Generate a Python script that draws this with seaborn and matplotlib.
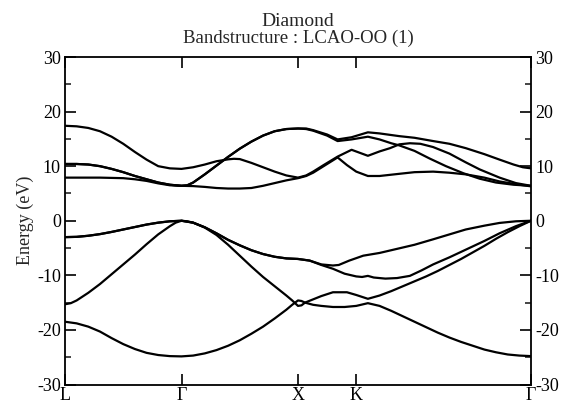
import numpy as np
import pandas as pd
import matplotlib
matplotlib.use("Agg")
import matplotlib.pyplot as plt
import seaborn as sns
from matplotlib.ticker import MultipleLocator

# ---- high-symmetry path (k in path units) ----
tick_pos = [0.0, 1.0, 2.0, 2.5, 4.0]
tick_labels = ["L", "Γ", "X", "K", "Γ"]

# ---- valence bands ----
k_v1 = [0, 0.1, 0.2, 0.3, 0.4, 0.5, 0.6, 0.7, 0.8, 0.9, 1.0,
        1.1, 1.2, 1.3, 1.4, 1.5, 1.6, 1.7, 1.8, 1.9, 1.95, 2.0, 2.03, 2.06,
        2.13, 2.2, 2.3, 2.4, 2.5, 2.6, 2.7, 2.8, 2.9, 3.0, 3.1, 3.2, 3.3, 3.4,
        3.5, 3.6, 3.7, 3.8, 3.9, 4.0]
e_v1 = [-18.5, -18.8, -19.4, -20.3, -21.5, -22.6, -23.5, -24.2, -24.6, -24.8, -24.85,
        -24.7, -24.3, -23.7, -22.9, -21.9, -20.7, -19.4, -17.9, -16.3, -15.4, -14.6, -14.7, -15.0,
        -15.4, -15.6, -15.8, -15.8, -15.6, -15.1, -15.6, -16.5, -17.5, -18.5, -19.5, -20.5, -21.4, -22.2,
        -22.9, -23.6, -24.1, -24.5, -24.7, -24.8]

k_v2 = [0, 0.05, 0.1, 0.2, 0.3, 0.4, 0.5, 0.6, 0.7, 0.8, 0.9, 0.95, 1.0,
        1.05, 1.1, 1.2, 1.3, 1.4, 1.5, 1.6, 1.7, 1.8, 1.9, 1.95, 2.0, 2.03, 2.06,
        2.13, 2.2, 2.3, 2.42, 2.5, 2.6, 2.7, 2.8, 2.9, 3.0, 3.1, 3.2, 3.3, 3.4,
        3.5, 3.6, 3.7, 3.8, 3.9, 4.0]
e_v2 = [-15.3, -15.1, -14.6, -13.2, -11.6, -9.8, -8.0, -6.2, -4.3, -2.5, -1.0, -0.35, 0.0,
        -0.1, -0.35, -1.25, -2.6, -4.4, -6.4, -8.4, -10.3, -12.0, -13.7, -14.6, -15.6, -15.5, -15.0,
        -14.4, -13.8, -13.1, -13.1, -13.6, -14.3, -13.7, -12.9, -12.0, -11.1, -10.2, -9.2, -8.1, -7.0,
        -5.8, -4.6, -3.3, -2.1, -1.0, 0.0]

k_v3 = [0, 0.1, 0.2, 0.3, 0.4, 0.5, 0.6, 0.7, 0.8, 0.9, 1.0,
        1.1, 1.2, 1.3, 1.4, 1.5, 1.6, 1.7, 1.8, 1.9, 2.0,
        2.1, 2.2, 2.3, 2.35, 2.44, 2.56, 2.7, 2.8, 2.9, 3.0, 3.16, 3.3, 3.44,
        3.6, 3.73, 3.87, 4.0]
e_v3 = [-3.0, -2.95, -2.75, -2.45, -2.05, -1.6, -1.15, -0.7, -0.35, -0.1, 0.0,
        -0.35, -1.2, -2.3, -3.5, -4.5, -5.4, -6.1, -6.6, -6.9, -7.0,
        -7.3, -8.0, -8.2, -8.1, -7.3, -6.4, -5.9, -5.4, -4.9, -4.4, -3.4, -2.5, -1.6,
        -0.9, -0.4, -0.1, 0.0]

k_v4 = [0, 0.1, 0.2, 0.3, 0.4, 0.5, 0.6, 0.7, 0.8, 0.9, 1.0,
        1.1, 1.2, 1.3, 1.4, 1.5, 1.6, 1.7, 1.8, 1.9, 2.0,
        2.1, 2.2, 2.3, 2.4, 2.5, 2.55, 2.6, 2.65, 2.75, 2.85, 2.96, 3.06, 3.16, 3.3,
        3.44, 3.6, 3.73, 3.87, 4.0]
e_v4 = [-3.0, -2.95, -2.75, -2.45, -2.05, -1.6, -1.15, -0.7, -0.35, -0.1, 0.0,
        -0.35, -1.2, -2.3, -3.5, -4.5, -5.4, -6.1, -6.6, -6.9, -7.0,
        -7.3, -8.1, -8.8, -9.7, -10.2, -10.3, -10.1, -10.4, -10.6, -10.5, -10.1, -9.1, -8.0, -6.7,
        -5.3, -3.7, -2.3, -1.0, 0.0]

# ---- conduction bands ----
k_c1 = [0, 0.1, 0.2, 0.3, 0.4, 0.5, 0.6, 0.7, 0.8, 0.9, 1.0,
        1.1, 1.2, 1.3, 1.4, 1.5, 1.6, 1.7, 1.8, 1.9, 2.0,
        2.07, 2.13, 2.22, 2.34, 2.42, 2.5, 2.6, 2.7, 2.87, 3.0, 3.16, 3.3, 3.44,
        3.6, 3.73, 3.87, 4.0]
e_c1 = [7.9, 7.9, 7.9, 7.9, 7.85, 7.8, 7.6, 7.3, 6.85, 6.5, 6.4,
        6.35, 6.2, 6.0, 5.9, 5.9, 6.0, 6.4, 6.9, 7.4, 7.8,
        8.2, 8.8, 10.0, 11.6, 10.2, 9.0, 8.2, 8.2, 8.6, 8.9, 9.0, 8.8, 8.5,
        7.9, 7.2, 6.7, 6.3]

k_c2 = [0, 0.1, 0.2, 0.3, 0.4, 0.5, 0.6, 0.7, 0.8, 0.9, 1.0,
        1.05, 1.1, 1.2, 1.3, 1.4, 1.5, 1.6, 1.7, 1.8, 1.9, 2.0,
        2.07, 2.13, 2.25, 2.34, 2.46, 2.6, 2.7, 2.87, 3.0, 3.16, 3.3, 3.44,
        3.6, 3.73, 3.85, 3.93, 4.0]
e_c2 = [10.4, 10.4, 10.3, 10.0, 9.5, 8.9, 8.2, 7.6, 7.0, 6.6, 6.4,
        6.5, 7.0, 8.5, 10.1, 11.7, 13.2, 14.5, 15.6, 16.4, 16.8, 16.9,
        16.9, 16.6, 15.8, 14.9, 15.3, 16.2, 16.0, 15.5, 15.2, 14.6, 14.1, 13.3,
        12.2, 11.2, 10.3, 9.8, 9.6]

k_c3 = [0, 0.1, 0.2, 0.3, 0.4, 0.5, 0.6, 0.7, 0.8, 0.9, 1.0,
        1.05, 1.1, 1.2, 1.3, 1.4, 1.5, 1.6, 1.7, 1.8, 1.9, 2.0,
        2.07, 2.13, 2.25, 2.34, 2.46, 2.6, 2.7, 2.8, 2.87, 3.0, 3.13, 3.27, 3.42,
        3.56, 3.7, 3.85, 4.0]
e_c3 = [10.4, 10.4, 10.3, 10.0, 9.5, 8.9, 8.2, 7.6, 7.0, 6.6, 6.4,
        6.5, 7.0, 8.5, 10.1, 11.7, 13.2, 14.5, 15.6, 16.4, 16.8, 16.9,
        16.8, 16.5, 15.6, 14.6, 14.9, 15.4, 14.9, 14.2, 13.8, 12.8, 11.4, 10.0, 8.7,
        7.7, 7.0, 6.6, 6.4]

k_c4 = [0, 0.1, 0.2, 0.3, 0.4, 0.5, 0.6, 0.7, 0.8, 0.9, 1.0,
        1.1, 1.2, 1.3, 1.4, 1.45, 1.5, 1.6, 1.7, 1.8, 1.9, 2.0,
        2.07, 2.13, 2.22, 2.34, 2.46, 2.6, 2.7, 2.79, 2.87, 2.96, 3.05, 3.16, 3.3,
        3.44, 3.56, 3.73, 3.87, 4.0]
e_c4 = [17.4, 17.3, 17.0, 16.4, 15.4, 14.1, 12.6, 11.2, 10.0, 9.6, 9.5,
        9.8, 10.3, 10.9, 11.25, 11.35, 11.3, 10.6, 9.8, 9.0, 8.3, 7.9,
        8.3, 9.0, 10.2, 11.75, 13.0, 11.9, 12.7, 13.3, 14.0, 14.2, 14.1, 13.5, 12.3,
        10.7, 9.4, 7.9, 6.9, 6.4]

bands = {
    "v1": (k_v1, e_v1), "v2": (k_v2, e_v2), "v3": (k_v3, e_v3), "v4": (k_v4, e_v4),
    "c1": (k_c1, e_c1), "c2": (k_c2, e_c2), "c3": (k_c3, e_c3), "c4": (k_c4, e_c4),
}

rows = []
for name, (ks, es) in bands.items():
    for i, (kk, ee) in enumerate(zip(ks, es)):
        rows.append((name, i, kk, ee))
df = pd.DataFrame(rows, columns=["band", "idx", "k", "E"])

sns.set_style("ticks")
plt.rcParams["font.family"] = ["Liberation Serif", "DejaVu Serif"]
plt.rcParams["axes.unicode_minus"] = False

W, H = 564, 405
fig = plt.figure(figsize=(W / 100, H / 100), dpi=100)
x0, x1, ytop, ybot = 65, 531, 57, 384.5
ax = fig.add_axes([x0 / W, 1 - ybot / H, (x1 - x0) / W, (ybot - ytop) / H])

sns.lineplot(data=df, x="k", y="E", units="band", estimator=None, sort=False,
             color="black", linewidth=1.6, ax=ax, legend=False)

ax.set_xlim(0, 4)
ax.set_ylim(-30, 30)
ax.set_xticks(tick_pos)
ax.set_xticklabels(tick_labels)
ax.yaxis.set_major_locator(MultipleLocator(10))
ax.yaxis.set_minor_locator(MultipleLocator(5))
ax.tick_params(axis="both", which="major", direction="in", length=8, width=1.2,
               labelsize=13, colors="black", top=True, right=True, labelright=True)
ax.tick_params(axis="y", which="minor", direction="in", length=4.5, width=1.2,
               left=True, right=True)
ax.tick_params(axis="x", which="major", pad=2)
ax.tick_params(axis="y", which="major", pad=3)
for s in ax.spines.values():
    s.set_linewidth(1.3)
    s.set_color("black")
ax.set_xlabel("")
ax.set_ylabel("Energy (eV)", fontsize=13, labelpad=2)

fig.text((x0 + x1) / 2 / W, 1 - 26 / H, "Diamond", ha="center", va="baseline", fontsize=14)
fig.text((x0 + x1) / 2 / W, 1 - 43 / H, "Bandstructure : LCAO-OO (1)", ha="center",
         va="baseline", fontsize=13.5)

fig.savefig("out.png", dpi=100)
